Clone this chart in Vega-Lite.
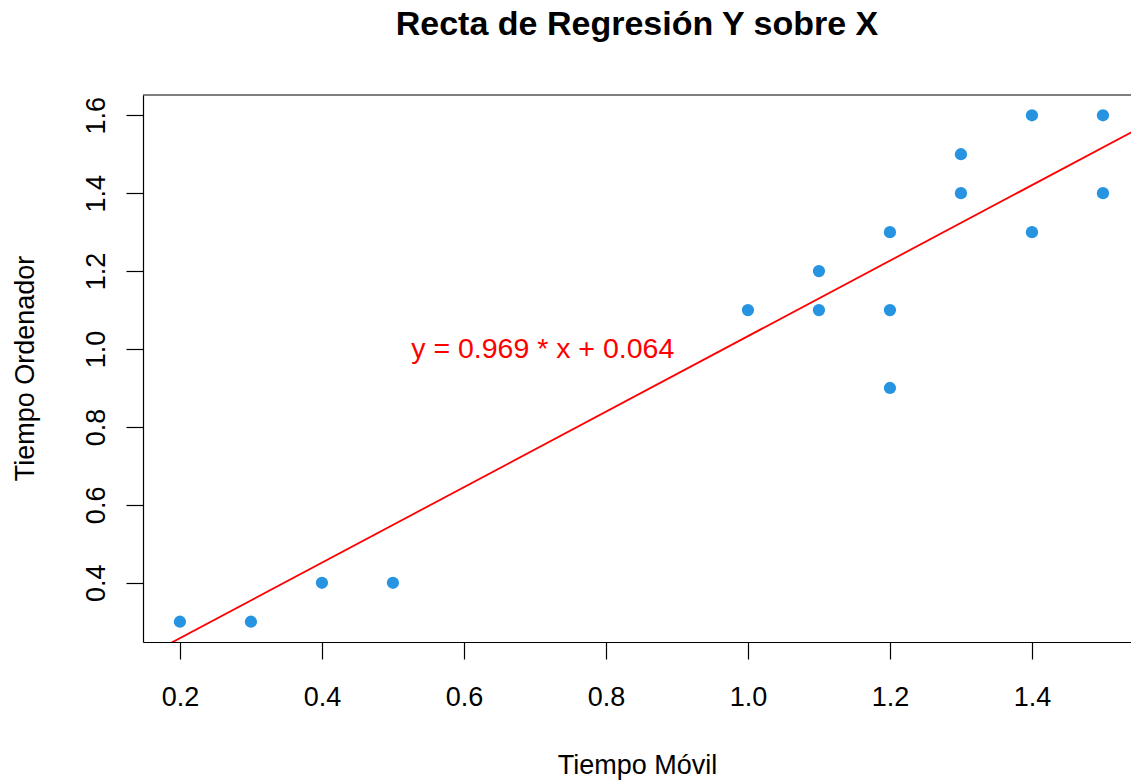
{
  "$schema": "https://vega.github.io/schema/vega-lite/v6.json",
  "width": 988,
  "height": 547,
  "autosize": {"type": "none"},
  "padding": {"left": 143, "top": 95, "right": 0, "bottom": 138},
  "background": "white",
  "config": {"view": {"stroke": null}, "font": "Liberation Sans"},
  "title": {
    "text": "Recta de Regresión Y sobre X",
    "fontSize": 34,
    "fontWeight": "bold",
    "font": "Liberation Sans",
    "color": "black",
    "anchor": "middle",
    "frame": "group",
    "baseline": "alphabetic",
    "offset": 25
  },
  "datasets": {
    "puntos": [
      {"movil": 0.2, "ordenador": 0.3},
      {"movil": 0.3, "ordenador": 0.3},
      {"movil": 0.4, "ordenador": 0.4},
      {"movil": 0.5, "ordenador": 0.4},
      {"movil": 1.0, "ordenador": 1.1},
      {"movil": 1.1, "ordenador": 1.2},
      {"movil": 1.1, "ordenador": 1.1},
      {"movil": 1.2, "ordenador": 1.3},
      {"movil": 1.2, "ordenador": 1.1},
      {"movil": 1.2, "ordenador": 0.9},
      {"movil": 1.3, "ordenador": 1.5},
      {"movil": 1.3, "ordenador": 1.4},
      {"movil": 1.4, "ordenador": 1.6},
      {"movil": 1.4, "ordenador": 1.3},
      {"movil": 1.5, "ordenador": 1.6},
      {"movil": 1.5, "ordenador": 1.4}
    ],
    "recta": [
      {"movil": 0.1, "ordenador": 0.1609},
      {"movil": 1.6, "ordenador": 1.6144}
    ],
    "etiqueta": [
      {"movil": 0.711, "ordenador": 1.0, "texto": "y = 0.969 * x + 0.064"}
    ],
    "borde": [
      {"ordenador": 1.652}
    ]
  },
  "layer": [
    {
      "data": {"name": "recta"},
      "mark": {"type": "line", "color": "#FF0000", "strokeWidth": 1.8, "clip": true},
      "encoding": {
        "x": {
          "field": "movil",
          "type": "quantitative",
          "scale": {"domain": [0.148, 1.5395], "nice": false, "zero": false},
          "axis": {
            "orient": "bottom",
            "values": [0.2, 0.4, 0.6, 0.8, 1.0, 1.2, 1.4],
            "format": ".1f",
            "grid": false,
            "domainColor": "black",
            "domainWidth": 1.2,
            "tickColor": "black",
            "tickWidth": 1.2,
            "tickSize": 17,
            "labelPadding": 25,
            "labelFontSize": 27,
            "labelColor": "black",
            "labelFont": "Liberation Sans",
            "title": "Tiempo Móvil",
            "titleFont": "Liberation Sans",
            "titleFontSize": 27,
            "titleFontWeight": "normal",
            "titleColor": "black",
            "titleBaseline": "alphabetic",
            "titleY": 131
          }
        },
        "y": {
          "field": "ordenador",
          "type": "quantitative",
          "scale": {"domain": [0.248, 1.652], "nice": false, "zero": false},
          "axis": {
            "orient": "left",
            "values": [0.4, 0.6, 0.8, 1.0, 1.2, 1.4, 1.6],
            "format": ".1f",
            "grid": false,
            "domainColor": "black",
            "domainWidth": 1.2,
            "tickColor": "black",
            "tickWidth": 1.2,
            "tickSize": 17,
            "labelPadding": 16,
            "labelAngle": -90,
            "labelAlign": "center",
            "labelBaseline": "bottom",
            "labelFontSize": 27,
            "labelColor": "black",
            "labelFont": "Liberation Sans",
            "title": "Tiempo Ordenador",
            "titleFont": "Liberation Sans",
            "titleFontSize": 27,
            "titleFontWeight": "normal",
            "titleColor": "black",
            "titleAngle": -90,
            "titleAlign": "center",
            "titleBaseline": "alphabetic",
            "titleX": -110,
            "titleY": 273
          }
        }
      }
    },
    {
      "data": {"name": "puntos"},
      "mark": {"type": "circle", "size": 150, "color": "#2794E1", "opacity": 1},
      "encoding": {
        "x": {"field": "movil", "type": "quantitative"},
        "y": {"field": "ordenador", "type": "quantitative"}
      }
    },
    {
      "data": {"name": "etiqueta"},
      "mark": {"type": "text", "color": "#FF0000", "fontSize": 28.5, "font": "Liberation Sans", "align": "center", "baseline": "middle"},
      "encoding": {
        "x": {"field": "movil", "type": "quantitative"},
        "y": {"field": "ordenador", "type": "quantitative"},
        "text": {"field": "texto"}
      }
    },
    {
      "data": {"name": "borde"},
      "mark": {"type": "rule", "color": "black", "strokeWidth": 1.2},
      "encoding": {
        "y": {"field": "ordenador", "type": "quantitative"}
      }
    }
  ]
}
